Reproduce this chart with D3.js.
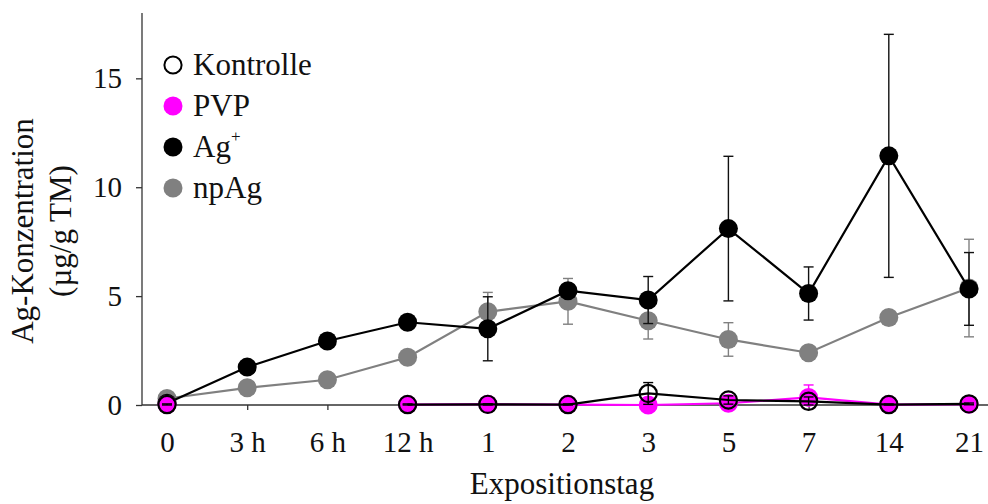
<!DOCTYPE html>
<html>
<head>
<meta charset="utf-8">
<script src="https://cdn.jsdelivr.net/npm/d3@7"></script>
<style>
  html, body { margin: 0; padding: 0; background: #fff; }
  svg { display: block; font-family: "Liberation Serif", "DejaVu Serif", serif; }
</style>
</head>
<body>
<svg id="chart" width="988" height="504"></svg>
<script>
// Exposure days (first four entries are hours of day 0/1)
const categories = ["0", "3 h", "6 h", "12 h", "1", "2", "3", "5", "7", "14", "21"];

// Ag concentration (µg/g TM), mean and standard deviation; null = not measured
const kontrolle    = [0.02, null, null, 0.02, 0.03, 0.02, 0.53, 0.23, 0.17, 0.02, 0.05];
const kontrolleErr = [0.03, null, null, 0.03, 0.03, 0.03, 0.50, 0.19, 0.20, 0.03, 0.04];
const pvp          = [0.02, null, null, 0.02, 0.04, 0.02, 0.00, 0.08, 0.35, 0.02, 0.04];
const pvpErr       = [0.02, null, null, 0.02, 0.02, 0.02, 0.02, 0.05, 0.57, 0.02, 0.02];
const agIon        = [0.08, 1.74, 2.94, 3.80, 3.50, 5.25, 4.82, 8.10, 5.12, 11.44, 5.33];
const agIonErr     = [0.05, 0.05, 0.05, 0.05, 1.47, 0.30, 1.08, 3.32, 1.22, 5.58, 1.67];
const npAg         = [0.30, 0.79, 1.16, 2.19, 4.28, 4.76, 3.87, 3.01, 2.40, 4.02, 5.37];
const npAgErr      = [0.05, 0.05, 0.05, 0.05, 0.89, 1.05, 0.84, 0.77, 0.05, 0.30, 2.24];

const yTicks = [0, 5, 10, 15];

const svg = d3.select("#chart");
const x = d3.scalePoint().domain(categories).range([167, 969]);
const y = d3.scaleLinear().domain([0, 18]).range([405, 13]);
const axisLeftX = 142, axisRightX = 988;

// Axes
const yAxis = svg.append("g")
  .attr("transform", `translate(${axisLeftX},0)`)
  .call(d3.axisLeft(y).tickValues(yTicks).tickSize(6).tickPadding(14));
const xAxis = svg.append("g")
  .attr("transform", `translate(0,${y(0)})`)
  .call(d3.axisBottom(x).tickSize(5).tickPadding(21));
[yAxis, xAxis].forEach(g => {
  g.select(".domain").remove();
  g.selectAll("line").attr("stroke", "#333").attr("stroke-width", 1.3);
  g.selectAll("text").attr("font-size", 29).attr("fill", "#111")
    .attr("font-family", "Liberation Serif, serif");
});
svg.append("line").attr("x1", axisLeftX).attr("x2", axisLeftX)
  .attr("y1", y(18)).attr("y2", y(0)).attr("stroke", "#333").attr("stroke-width", 1.3);
svg.append("line").attr("x1", axisLeftX).attr("x2", axisRightX)
  .attr("y1", y(0)).attr("y2", y(0)).attr("stroke", "#333").attr("stroke-width", 1.3);

// Axis titles
svg.append("text").attr("x", (167 + 969) / 2 - 6).attr("y", 494)
  .attr("text-anchor", "middle").attr("font-size", 31).attr("fill", "#111")
  .text("Expositionstag");
const yTitle = svg.append("g").attr("transform", "translate(0,231) rotate(-90)");
yTitle.append("text").attr("x", 0).attr("y", 33).attr("text-anchor", "middle")
  .attr("font-size", 31).attr("fill", "#111").text("Ag-Konzentration");
yTitle.append("text").attr("x", 0).attr("y", 71).attr("text-anchor", "middle")
  .attr("font-size", 31).attr("fill", "#111").text("(µg/g TM)");

// Series, drawn back to front
const series = [
  { name: "npAg", values: npAg, err: npAgErr, line: "#808080", errColor: "#808080", fill: "#808080", stroke: "none" },
  { name: "Ag+", values: agIon, err: agIonErr, line: "#000", errColor: "#111", fill: "#000", stroke: "none" },
  { name: "PVP", values: pvp, err: pvpErr, line: "#ff00ff", errColor: "#ff00ff", fill: "#ff00ff", stroke: "none" },
  { name: "Kontrolle", values: kontrolle, err: kontrolleErr, line: "#000", errColor: "#000", fill: "none", stroke: "#000" }
];

const line = d3.line()
  .defined(d => d.v !== null)
  .x(d => x(d.c))
  .y(d => y(d.v));

const capW = 5;
series.forEach(s => {
  const pts = categories.map((c, i) => ({ c, v: s.values[i], e: s.err[i] }));
  const g = svg.append("g");
  g.append("path").datum(pts).attr("d", line)
    .attr("fill", "none").attr("stroke", s.line).attr("stroke-width", 2.2);
  const valid = pts.filter(d => d.v !== null);
  const eb = g.append("g").selectAll("g").data(valid).join("g")
    .attr("stroke", s.errColor).attr("stroke-width", 1.4);
  eb.append("line").attr("x1", d => x(d.c)).attr("x2", d => x(d.c))
    .attr("y1", d => y(d.v + d.e)).attr("y2", d => y(Math.max(0, d.v - d.e)));
  eb.append("line").attr("x1", d => x(d.c) - capW).attr("x2", d => x(d.c) + capW)
    .attr("y1", d => y(d.v + d.e)).attr("y2", d => y(d.v + d.e));
  eb.append("line").attr("x1", d => x(d.c) - capW).attr("x2", d => x(d.c) + capW)
    .attr("y1", d => y(Math.max(0, d.v - d.e))).attr("y2", d => y(Math.max(0, d.v - d.e)));
  g.append("g").selectAll("circle").data(valid).join("circle")
    .attr("cx", d => x(d.c)).attr("cy", d => y(d.v))
    .attr("r", s.stroke === "none" ? 9.5 : 8.6)
    .attr("fill", s.fill).attr("stroke", s.stroke).attr("stroke-width", 2.2);
  if (s.name === "Kontrolle") g.raise();
});

// Legend
const legendItems = [
  { label: "Kontrolle", fill: "none", stroke: "#000" },
  { label: "PVP", fill: "#ff00ff", stroke: "none" },
  { label: "Ag", sup: "+", fill: "#000", stroke: "none" },
  { label: "npAg", fill: "#808080", stroke: "none" }
];
const legend = svg.append("g");
legendItems.forEach((d, i) => {
  const cy = 65 + i * 41;
  legend.append("circle").attr("cx", 173).attr("cy", cy)
    .attr("r", d.stroke === "none" ? 9.5 : 8.6)
    .attr("fill", d.fill).attr("stroke", d.stroke).attr("stroke-width", 2);
  const t = legend.append("text").attr("x", 193).attr("y", cy + 10)
    .attr("font-size", 31).attr("fill", "#111").text(d.label);
  if (d.sup) t.append("tspan").attr("font-size", 17).attr("dy", -15).text(d.sup);
});
</script>
</body>
</html>
